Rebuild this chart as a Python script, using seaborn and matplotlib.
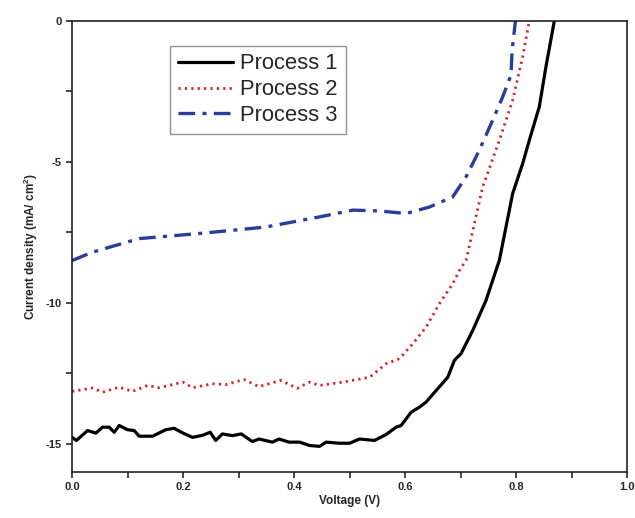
import numpy as np
import pandas as pd
import matplotlib
matplotlib.use("Agg")
import matplotlib.pyplot as plt
import seaborn as sns
from matplotlib.ticker import MultipleLocator

# Process 1 (black solid)
p1_v = [0.0, 0.008, 0.028, 0.043, 0.055, 0.067, 0.076, 0.085, 0.1, 0.112, 0.121, 0.145,
        0.169, 0.184, 0.2, 0.217, 0.235, 0.249, 0.259, 0.271, 0.289, 0.305, 0.325, 0.337,
        0.361, 0.373, 0.391, 0.41, 0.428, 0.446, 0.458, 0.482, 0.5, 0.518, 0.545, 0.566,
        0.584, 0.593, 0.611, 0.626, 0.638, 0.656, 0.677, 0.689, 0.701, 0.722, 0.746, 0.770,
        0.794, 0.812, 0.824, 0.842, 0.854, 0.869]
p1_j = [-14.77, -14.88, -14.53, -14.62, -14.41, -14.41, -14.59, -14.35, -14.5, -14.53, -14.73, -14.73,
        -14.5, -14.45, -14.62, -14.77, -14.7, -14.59, -14.88, -14.65, -14.71, -14.65, -14.92, -14.83,
        -14.94, -14.83, -14.94, -14.94, -15.06, -15.09, -14.94, -14.98, -14.98, -14.83, -14.88, -14.67,
        -14.41, -14.35, -13.88, -13.7, -13.52, -13.11, -12.64, -12.04, -11.8, -10.98, -9.91, -8.49,
        -6.12, -5.06, -4.23, -3.04, -1.62, 0.0]

# Process 2 (red dotted)
p2_v = [0.0, 0.037, 0.055, 0.085, 0.109, 0.136, 0.157, 0.2, 0.217, 0.253, 0.277, 0.31,
        0.337, 0.376, 0.406, 0.428, 0.446, 0.488, 0.536, 0.566, 0.59, 0.614, 0.638, 0.662,
        0.686, 0.698, 0.71, 0.74, 0.77, 0.794, 0.812, 0.824]
p2_j = [-13.14, -13.02, -13.17, -12.99, -13.14, -12.93, -13.01, -12.81, -13.01, -12.87, -12.9, -12.72,
        -12.97, -12.75, -13.03, -12.81, -12.93, -12.81, -12.64, -12.16, -11.98, -11.45, -10.86, -10.03,
        -9.32, -8.85, -8.49, -5.89, -4.23, -2.81, -1.27, 0.0]

# Process 3 (blue dash-dot)
p3_v = [0.0, 0.037, 0.121, 0.229, 0.349, 0.446, 0.506, 0.554, 0.602, 0.644, 0.686, 0.71,
        0.734, 0.758, 0.776, 0.791, 0.793, 0.799]
p3_j = [-8.5, -8.2, -7.72, -7.54, -7.31, -6.95, -6.71, -6.74, -6.83, -6.6, -6.24, -5.53,
        -4.58, -3.52, -2.69, -1.92, -1.03, 0.0]

labels = ["Process 1", "Process 2", "Process 3"]
colors = ["#000000", "#d8232a", "#2a3c9c"]
styles = ["-", (0, (0.8, 1.5)), (0, (5, 2.2, 1.2, 2.2))]
widths = [2.3, 2.0, 2.4]

sns.set_style("ticks")
plt.rcParams["font.family"] = ["Liberation Sans", "DejaVu Sans"]
plt.rcParams["axes.unicode_minus"] = False
plt.rcParams["mathtext.fontset"] = "custom"
plt.rcParams["mathtext.rm"] = "Liberation Sans"
plt.rcParams["mathtext.bf"] = "Liberation Sans:bold"

fig = plt.figure(figsize=(6.35, 5.18), dpi=100)
ax = fig.add_axes([0.1134, 0.0888, 0.874, 0.8707])

series = [(p1_v, p1_j), (p2_v, p2_j), (p3_v, p3_j)]
for (v, j), lab, c, ls, lw in zip(series, labels, colors, styles, widths):
    df = pd.DataFrame({"Voltage": v, "J": j})
    sns.lineplot(data=df, x="Voltage", y="J", ax=ax, color=c, linestyle=ls,
                 linewidth=lw, label=lab, sort=False)

ax.set_xlim(0, 1.0)
ax.set_ylim(-16, 0)
ax.xaxis.set_major_locator(MultipleLocator(0.2))
ax.xaxis.set_minor_locator(MultipleLocator(0.1))
ax.yaxis.set_major_locator(MultipleLocator(5))
ax.yaxis.set_minor_locator(MultipleLocator(2.5))
ax.xaxis.set_major_formatter(matplotlib.ticker.FormatStrFormatter("%.1f"))
ax.tick_params(axis="both", which="both", direction="out", length=4, width=1.2,
               labelsize=8, top=False, right=False)
for lbl in ax.get_xticklabels() + ax.get_yticklabels():
    lbl.set_fontweight("bold")
for s in ax.spines.values():
    s.set_visible(True)
    s.set_linewidth(1.2)
    s.set_color("#222222")

ax.set_xlabel("Voltage (V)", fontsize=8.5, fontweight="bold", labelpad=2)
ax.set_ylabel(r"Current density (mA/ cm$^{\mathbf{2}}$)", fontsize=8.5, fontweight="bold", labelpad=4)

leg = ax.legend(loc="upper left", bbox_to_anchor=(0.177, 0.945), borderaxespad=0,
                fontsize=15.8, frameon=True, fancybox=False, handlelength=2.5,
                handletextpad=0.35, labelspacing=0.22, borderpad=0.35)
leg.get_frame().set_edgecolor("#777777")
leg.get_frame().set_linewidth(1.0)

fig.savefig("out.png", dpi=100)
